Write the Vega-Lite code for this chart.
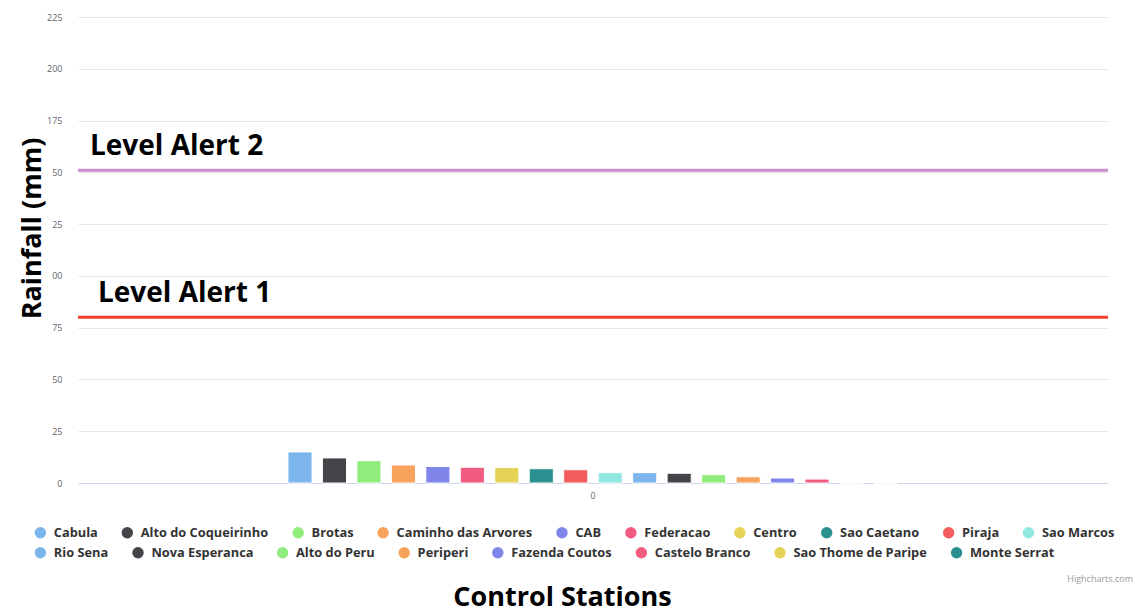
{
  "$schema": "https://vega.github.io/schema/vega-lite/v6.json",
  "autosize": {"type": "none"},
  "width": 1030,
  "height": 466,
  "padding": {"left": 78, "top": 17, "right": 27, "bottom": 130},
  "background": "#ffffff",
  "config": {"view": {"stroke": null}},
  "title": {
    "text": "Highcharts.com",
    "orient": "top",
    "anchor": "end",
    "frame": "group",
    "fontSize": 9,
    "fontWeight": "normal",
    "font": "Open Sans",
    "color": "#999999",
    "baseline": "middle",
    "offset": 0,
    "dx": 25,
    "dy": 575
  },
  "datasets": {
    "stations": [
      {"group": "0", "station": "Cabula", "rainfall": 15.0},
      {"group": "0", "station": "Alto do Coqueirinho", "rainfall": 12.1},
      {"group": "0", "station": "Brotas", "rainfall": 10.8},
      {"group": "0", "station": "Caminho das Arvores", "rainfall": 8.7},
      {"group": "0", "station": "CAB", "rainfall": 8.0},
      {"group": "0", "station": "Federacao", "rainfall": 7.6},
      {"group": "0", "station": "Centro", "rainfall": 7.5},
      {"group": "0", "station": "Sao Caetano", "rainfall": 6.9},
      {"group": "0", "station": "Piraja", "rainfall": 6.4},
      {"group": "0", "station": "Sao Marcos", "rainfall": 5.0},
      {"group": "0", "station": "Rio Sena", "rainfall": 5.0},
      {"group": "0", "station": "Nova Esperanca", "rainfall": 4.7},
      {"group": "0", "station": "Alto do Peru", "rainfall": 4.0},
      {"group": "0", "station": "Periperi", "rainfall": 3.0},
      {"group": "0", "station": "Fazenda Coutos", "rainfall": 2.4},
      {"group": "0", "station": "Castelo Branco", "rainfall": 1.9},
      {"group": "0", "station": "Sao Thome de Paripe", "rainfall": 0},
      {"group": "0", "station": "Monte Serrat", "rainfall": 0}
    ],
    "alerts": [
      {"label": "Level Alert 1", "level": 80},
      {"label": "Level Alert 2", "level": 151}
    ]
  },
  "encoding": {
    "x": {
      "field": "group",
      "type": "nominal",
      "scale": {"paddingInner": 0, "paddingOuter": 0.33},
      "axis": {
        "title": "Control Stations",
        "titleFont": "Open Sans",
        "titleFontSize": 27,
        "titleFontWeight": "bold",
        "titleColor": "#000000",
        "titleX": 484,
        "titleY": 122,
        "titleBaseline": "alphabetic",
        "titleAlign": "center",
        "labelAngle": 0,
        "labelFont": "Open Sans",
        "labelFontSize": 9,
        "labelColor": "#666666",
        "labelPadding": 8,
        "ticks": false,
        "domainColor": "#ccd6eb",
        "domainWidth": 1,
        "grid": false
      }
    },
    "xOffset": {
      "field": "station",
      "type": "nominal",
      "scale": {
        "domain": ["Cabula", "Alto do Coqueirinho", "Brotas", "Caminho das Arvores", "CAB", "Federacao", "Centro", "Sao Caetano", "Piraja", "Sao Marcos",
                   "Rio Sena", "Nova Esperanca", "Alto do Peru", "Periperi", "Fazenda Coutos", "Castelo Branco", "Sao Thome de Paripe", "Monte Serrat"],
        "paddingInner": 0.3,
        "paddingOuter": 0.15
      }
    },
    "y": {
      "field": "rainfall",
      "type": "quantitative",
      "scale": {"domain": [0, 225], "nice": false},
      "axis": {
        "title": "Rainfall (mm)",
        "titleFont": "Open Sans",
        "titleFontSize": 27,
        "titleFontWeight": "bold",
        "titleColor": "#000000",
        "titleX": -38,
        "titleY": 211,
        "titleAngle": -90,
        "titleAlign": "center",
        "titleBaseline": "alphabetic",
        "values": [0, 25, 50, 75, 100, 125, 150, 175, 200, 225],
        "labelExpr": "datum.value >= 100 && datum.value <= 150 ? substring(datum.label, 1) : datum.label",
        "labelFont": "Open Sans",
        "labelFontSize": 9,
        "labelColor": "#666666",
        "labelPadding": 16,
        "ticks": false,
        "domain": false,
        "gridColor": "#e6e6e6",
        "gridWidth": 1
      }
    }
  },
  "layer": [
    {
      "data": {"name": "stations"},
      "transform": [{"filter": {"field": "station", "oneOf": ["Cabula", "Alto do Coqueirinho", "Brotas", "Caminho das Arvores", "CAB", "Federacao", "Centro", "Sao Caetano", "Piraja", "Sao Marcos"]}}],
      "mark": {"type": "bar", "stroke": "#ffffff", "strokeWidth": 1},
      "encoding": {
        "color": {
          "field": "station",
          "type": "nominal",
          "scale": {
            "domain": ["Cabula", "Alto do Coqueirinho", "Brotas", "Caminho das Arvores", "CAB", "Federacao", "Centro", "Sao Caetano", "Piraja", "Sao Marcos"],
            "range": ["#7cb5ec", "#434348", "#90ed7d", "#f7a35c", "#8085e9", "#f15c80", "#e4d354", "#2b908f", "#f45b5b", "#91e8e1"]
          },
          "legend": {
            "title": null,
            "orient": "none",
            "legendX": -44,
            "legendY": 509,
            "direction": "horizontal",
            "columns": 10,
            "symbolType": "circle",
            "symbolSize": 130,
            "symbolStrokeWidth": 0,
            "labelFont": "Open Sans",
            "labelFontSize": 12.8,
            "labelFontWeight": "bold",
            "labelColor": "#333333",
            "labelOffset": 7,
            "columnPadding": 22.9,
            "labelLimit": 300
          }
        }
      }
    },
    {
      "data": {"name": "stations"},
      "transform": [{"filter": {"field": "station", "oneOf": ["Rio Sena", "Nova Esperanca", "Alto do Peru", "Periperi", "Fazenda Coutos", "Castelo Branco", "Sao Thome de Paripe", "Monte Serrat"]}}],
      "mark": {"type": "bar", "stroke": "#ffffff", "strokeWidth": 1},
      "encoding": {
        "fill": {
          "field": "station",
          "type": "nominal",
          "scale": {
            "domain": ["Rio Sena", "Nova Esperanca", "Alto do Peru", "Periperi", "Fazenda Coutos", "Castelo Branco", "Sao Thome de Paripe", "Monte Serrat"],
            "range": ["#7cb5ec", "#434348", "#90ed7d", "#f7a35c", "#8085e9", "#f15c80", "#e4d354", "#2b908f"]
          },
          "legend": {
            "title": null,
            "orient": "none",
            "legendX": -44,
            "legendY": 529,
            "direction": "horizontal",
            "columns": 8,
            "symbolType": "circle",
            "symbolSize": 130,
            "symbolStrokeWidth": 0,
            "labelFont": "Open Sans",
            "labelFontSize": 12.8,
            "labelFontWeight": "bold",
            "labelColor": "#333333",
            "labelOffset": 7,
            "columnPadding": 22.6,
            "labelLimit": 300
          }
        }
      }
    },
    {
      "data": {"name": "alerts"},
      "mark": {"type": "rule", "strokeWidth": 3},
      "encoding": {
        "x": null,
        "xOffset": null,
        "y": {"field": "level", "type": "quantitative"},
        "stroke": {
          "condition": {"test": "datum.level > 100", "value": "#c98fcd"},
          "value": "#f3402e"
        }
      }
    },
    {
      "data": {"name": "alerts"},
      "transform": [{"filter": "datum.level > 100"}],
      "mark": {"type": "text", "align": "left", "baseline": "alphabetic", "dx": -503, "dy": -15, "font": "Open Sans", "fontSize": 28, "fontWeight": "bold", "color": "#000000"},
      "encoding": {
        "x": null,
        "xOffset": null,
        "y": {"field": "level", "type": "quantitative"},
        "text": {"field": "label"}
      }
    },
    {
      "data": {"name": "alerts"},
      "transform": [{"filter": "datum.level < 100"}],
      "mark": {"type": "text", "align": "left", "baseline": "alphabetic", "dx": -495, "dy": -15, "font": "Open Sans", "fontSize": 28, "fontWeight": "bold", "color": "#000000"},
      "encoding": {
        "x": null,
        "xOffset": null,
        "y": {"field": "level", "type": "quantitative"},
        "text": {"field": "label"}
      }
    }
  ]
}
